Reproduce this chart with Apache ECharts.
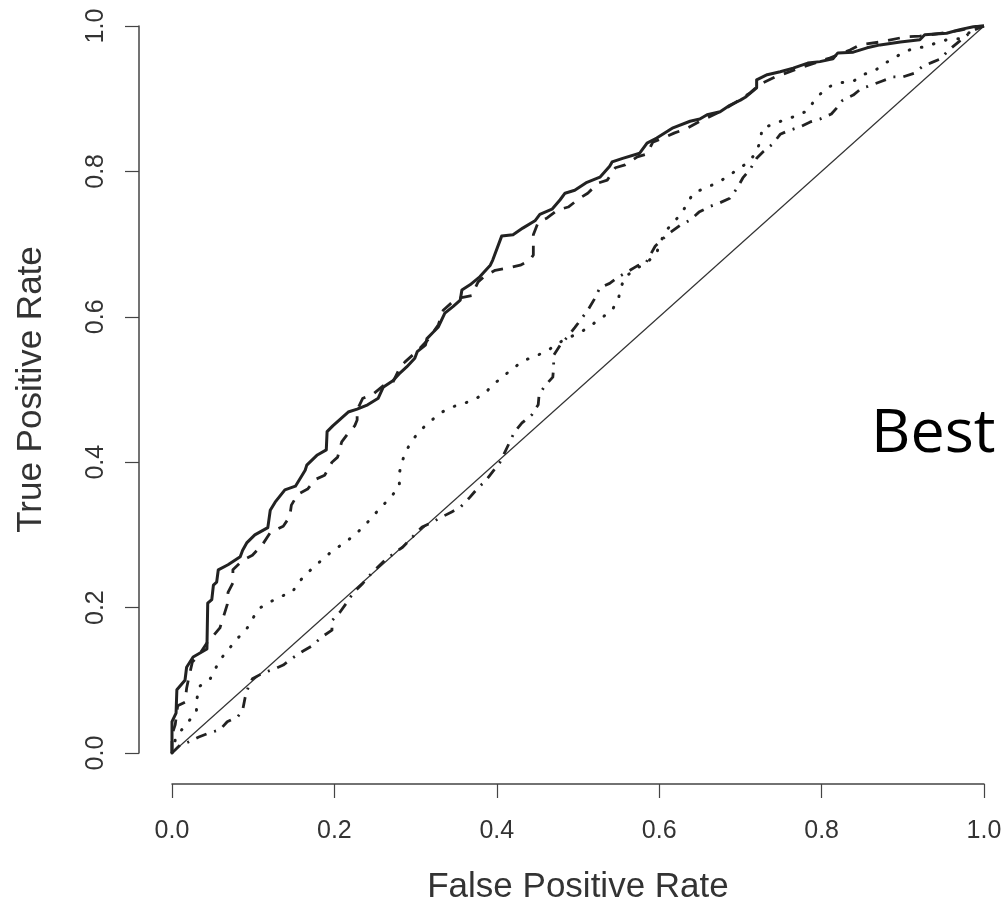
<!DOCTYPE html>
<html>
<head>
<meta charset="utf-8">
<title>ROC curves</title>
<script src="https://cdn.jsdelivr.net/npm/echarts@6/dist/echarts.min.js"></script>
<style>
  html, body { margin: 0; padding: 0; background: #fff; }
  #chart { width: 1003px; height: 901px; }
</style>
</head>
<body>
<div id="chart"></div>
<script>
// ROC 曲线数据
const solidFpr = [0,0,0.005,0.006,0.016,0.018,0.026,0.043,0.044,0.049,0.051,0.055,0.057,0.069,0.084,0.087,0.092,0.102,0.118,0.121,0.127,0.139,0.152,0.164,0.166,0.179,0.190,0.191,0.198,0.217,0.228,0.241,0.254,0.260,0.272,0.281,0.289,0.299,0.302,0.312,0.314,0.321,0.328,0.336,0.346,0.355,0.357,0.367,0.379,0.392,0.395,0.406,0.420,0.432,0.447,0.453,0.468,0.478,0.484,0.496,0.511,0.527,0.539,0.542,0.555,0.576,0.585,0.597,0.617,0.638,0.650,0.659,0.675,0.687,0.700,0.706,0.720,0.720,0.733,0.749,0.765,0.783,0.798,0.814,0.820,0.839,0.856,0.872,0.897,0.921,0.927,0.954,0.970,0.987,1]
const solidTpr = [0,0.043,0.055,0.087,0.100,0.118,0.132,0.143,0.206,0.211,0.231,0.235,0.252,0.259,0.270,0.279,0.289,0.300,0.310,0.334,0.345,0.362,0.367,0.389,0.396,0.410,0.417,0.442,0.450,0.469,0.473,0.479,0.488,0.503,0.512,0.523,0.531,0.543,0.552,0.561,0.570,0.578,0.586,0.605,0.614,0.623,0.637,0.644,0.655,0.671,0.678,0.711,0.713,0.722,0.732,0.741,0.748,0.761,0.770,0.774,0.785,0.792,0.807,0.813,0.818,0.825,0.839,0.846,0.860,0.869,0.872,0.878,0.882,0.891,0.898,0.902,0.915,0.926,0.933,0.937,0.942,0.949,0.951,0.955,0.963,0.964,0.970,0.974,0.978,0.981,0.988,0.990,0.995,0.999,1]

const dashedFpr = [0,0,0.004,0.007,0.016,0.018,0.020,0.025,0.034,0.044,0.050,0.059,0.063,0.068,0.069,0.075,0.075,0.087,0.099,0.111,0.121,0.137,0.145,0.147,0.155,0.167,0.176,0.188,0.197,0.204,0.209,0.217,0.225,0.228,0.228,0.235,0.246,0.260,0.272,0.281,0.287,0.303,0.315,0.328,0.334,0.345,0.355,0.369,0.377,0.385,0.398,0.413,0.429,0.441,0.445,0.445,0.451,0.462,0.475,0.488,0.502,0.512,0.525,0.536,0.546,0.558,0.573,0.585,0.592,0.605,0.619,0.632,0.650,0.675,0.693,0.712,0.724,0.743,0.773,0.810,0.835,0.847,0.872,0.903,0.921,0.946,0.970,0.989,1]
const dashedTpr = [0,0.025,0.039,0.065,0.070,0.089,0.100,0.125,0.136,0.153,0.160,0.172,0.186,0.204,0.221,0.234,0.252,0.265,0.272,0.286,0.303,0.312,0.325,0.341,0.356,0.363,0.376,0.382,0.400,0.407,0.428,0.440,0.450,0.458,0.472,0.488,0.492,0.505,0.510,0.531,0.538,0.554,0.568,0.589,0.609,0.620,0.626,0.629,0.648,0.656,0.664,0.667,0.671,0.678,0.685,0.713,0.730,0.736,0.747,0.751,0.763,0.770,0.784,0.788,0.805,0.809,0.820,0.824,0.840,0.846,0.853,0.858,0.869,0.882,0.894,0.908,0.920,0.930,0.942,0.956,0.967,0.974,0.978,0.985,0.986,0.990,0.994,0.999,1]

const dottedFpr = [0,0.004,0.012,0.020,0.030,0.031,0.033,0.047,0.059,0.070,0.080,0.091,0.099,0.106,0.118,0.133,0.148,0.156,0.167,0.179,0.191,0.203,0.216,0.228,0.239,0.250,0.260,0.271,0.280,0.280,0.283,0.289,0.297,0.308,0.319,0.331,0.345,0.360,0.374,0.387,0.398,0.410,0.422,0.436,0.450,0.463,0.482,0.490,0.505,0.517,0.531,0.543,0.550,0.553,0.558,0.573,0.585,0.596,0.607,0.617,0.628,0.635,0.642,0.656,0.671,0.683,0.697,0.709,0.719,0.724,0.727,0.739,0.754,0.768,0.782,0.789,0.798,0.808,0.823,0.839,0.851,0.866,0.877,0.889,0.900,0.914,0.927,0.942,0.954,0.973,0.983,1]
const dottedTpr = [0,0.018,0.032,0.043,0.056,0.076,0.091,0.102,0.128,0.143,0.157,0.169,0.184,0.198,0.206,0.215,0.221,0.235,0.248,0.260,0.272,0.282,0.292,0.303,0.315,0.329,0.341,0.354,0.367,0.385,0.400,0.417,0.432,0.446,0.457,0.468,0.476,0.481,0.487,0.497,0.509,0.520,0.531,0.541,0.547,0.554,0.568,0.572,0.580,0.589,0.600,0.611,0.626,0.641,0.655,0.667,0.675,0.686,0.717,0.729,0.743,0.757,0.770,0.777,0.784,0.792,0.803,0.812,0.825,0.840,0.860,0.864,0.871,0.876,0.883,0.894,0.906,0.916,0.922,0.924,0.933,0.939,0.948,0.956,0.963,0.970,0.971,0.977,0.981,0.983,0.992,1]

const dashDotFpr = [0,0.010,0.020,0.033,0.047,0.059,0.068,0.081,0.087,0.090,0.094,0.099,0.112,0.127,0.137,0.149,0.161,0.172,0.185,0.197,0.197,0.207,0.216,0.223,0.234,0.244,0.252,0.262,0.275,0.284,0.296,0.308,0.318,0.333,0.345,0.355,0.367,0.377,0.385,0.395,0.404,0.410,0.416,0.422,0.431,0.443,0.451,0.452,0.459,0.469,0.470,0.470,0.478,0.486,0.496,0.506,0.512,0.520,0.527,0.539,0.550,0.564,0.573,0.584,0.595,0.603,0.615,0.626,0.638,0.649,0.663,0.675,0.687,0.696,0.703,0.712,0.720,0.728,0.740,0.749,0.759,0.773,0.786,0.798,0.812,0.820,0.826,0.839,0.850,0.857,0.874,0.888,0.900,0.914,0.925,0.936,0.947,0.954,0.961,0.973,0.985,1]
const dashDotTpr = [0,0.011,0.015,0.022,0.028,0.032,0.043,0.050,0.059,0.076,0.091,0.102,0.110,0.116,0.121,0.131,0.140,0.147,0.160,0.169,0.182,0.194,0.208,0.220,0.232,0.245,0.254,0.265,0.276,0.283,0.297,0.311,0.316,0.325,0.332,0.338,0.352,0.365,0.373,0.387,0.400,0.414,0.428,0.442,0.454,0.465,0.479,0.492,0.505,0.517,0.531,0.547,0.561,0.571,0.585,0.600,0.609,0.624,0.640,0.646,0.655,0.664,0.670,0.675,0.697,0.706,0.717,0.726,0.733,0.744,0.752,0.757,0.763,0.777,0.791,0.803,0.818,0.827,0.838,0.851,0.856,0.861,0.868,0.872,0.879,0.889,0.898,0.905,0.915,0.917,0.924,0.930,0.930,0.935,0.945,0.950,0.955,0.964,0.971,0.982,0.993,1]

const diagFpr = [0, 1]
const diagTpr = [0, 1]

const tickValues = [0, 0.2, 0.4, 0.6, 0.8, 1.0]

const pairs = (xs, ys) => xs.map((x, i) => [x, ys[i]])

const axisFont = '"Liberation Sans", Arial, Helvetica, sans-serif'
const ink = '#222'

const chart = echarts.init(document.getElementById('chart'))

// R 风格坐标轴：与绘图区分开，不相交
const makeAxis = (name, offset, nameGap, labelMargin, rotate) => ({
  type: 'value',
  min: tickValues[0],
  max: tickValues[tickValues.length - 1],
  interval: 0.2,
  offset,
  name,
  nameLocation: 'middle',
  nameGap,
  nameTextStyle: { fontSize: 35, color: '#333', fontFamily: axisFont },
  axisLine: { show: true, onZero: false, lineStyle: { color: '#444', width: 1.5 } },
  axisTick: { show: true, length: 14, lineStyle: { color: '#444', width: 1.2 } },
  axisLabel: {
    fontSize: 25,
    color: '#333',
    fontFamily: axisFont,
    margin: labelMargin,
    rotate,
    formatter: v => v.toFixed(1)
  },
  splitLine: { show: false }
})

const lineSeries = (name, data, width, dash, cap, color) => ({
  name,
  type: 'line',
  data,
  symbol: 'none',
  smooth: false,
  clip: false,
  animation: false,
  lineStyle: { color, width, type: dash, cap, join: 'round' }
})

const option = {
  backgroundColor: '#fff',
  animation: false,
  grid: { left: 172, right: 19, top: 26, bottom: 148, outerBoundsMode: 'none', containLabel: false },
  xAxis: makeAxis('False Positive Rate', 31, 86, 35, 0),
  yAxis: makeAxis('True Positive Rate', 33, 90, 30, 90),
  series: [
    lineSeries('random', pairs(diagFpr, diagTpr), 1.2, 'solid', 'butt', '#333'),
    lineSeries('dashdot', pairs(dashDotFpr, dashDotTpr), 2.8, [11, 8, 2, 8], 'butt', ink),
    lineSeries('dotted', pairs(dottedFpr, dottedTpr), 3, [0.6, 12], 'round', ink),
    lineSeries('dashed', pairs(dashedFpr, dashedTpr), 2.8, [12, 10], 'butt', ink),
    lineSeries('solid', pairs(solidFpr, solidTpr), 3, 'solid', 'butt', ink)
  ],
  graphic: [
    {
      type: 'text',
      x: 871,
      y: 435,
      style: {
        text: 'Best',
        fontSize: 61,
        fontFamily: '"Open Sans", "Noto Sans", sans-serif',
        fill: '#000',
        align: 'left',
        verticalAlign: 'middle'
      }
    }
  ]
}

chart.setOption(option)
</script>
</body>
</html>
